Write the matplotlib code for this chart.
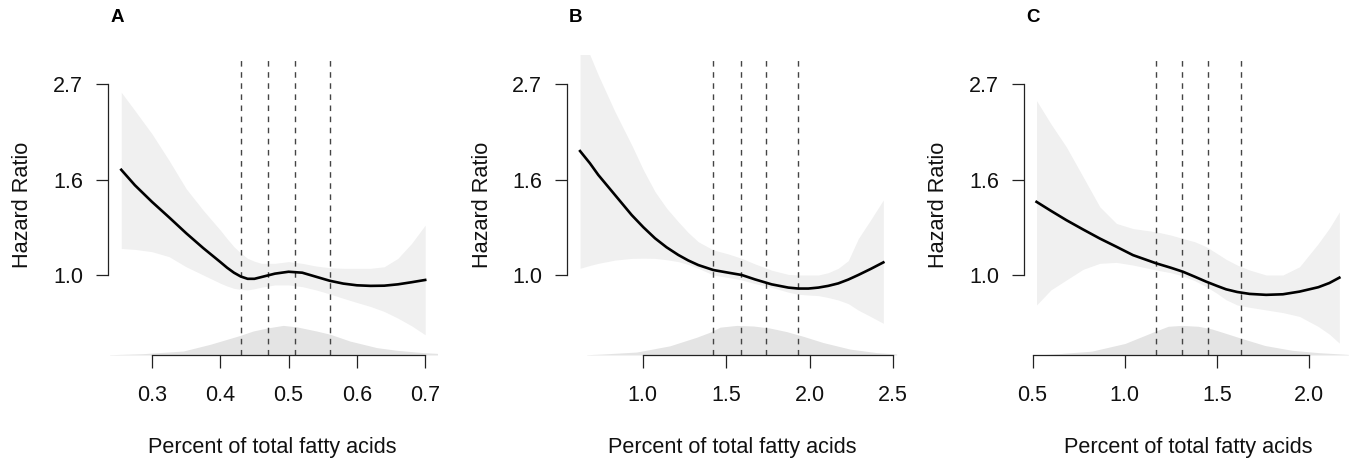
"""Restricted cubic spline hazard ratio plots, three fatty acids (A, B, C)."""

import matplotlib

matplotlib.use("Agg")
import matplotlib.pyplot as plt  # noqa: E402

plt.rcParams.update({"font.family": ["Liberation Sans", "DejaVu Sans"]})

# y values are log hazard ratio; ticks at log 0, 0.5, 1 -> HR 1.0, 1.6, 2.7
Y_TICKS = [0.0, 0.5, 1.0]
Y_TICK_LABELS = ["1.0", "1.6", "2.7"]
X_LABEL = "Percent of total fatty acids"
Y_LABEL = "Hazard Ratio"

# ---- panel A
A_X = [0.255, 0.275, 0.30, 0.325, 0.35, 0.375, 0.40, 0.41, 0.42, 0.43, 0.44, 0.45, 0.46, 0.48,
       0.50, 0.52, 0.54, 0.56, 0.58, 0.60, 0.62, 0.64, 0.66, 0.68, 0.70]
A_FIT = [0.551, 0.470, 0.383, 0.302, 0.219, 0.141, 0.068, 0.038, 0.012, -0.008, -0.020,
         -0.020, -0.011, 0.007, 0.017, 0.012, -0.009, -0.030, -0.045, -0.054, -0.057,
         -0.056, -0.049, -0.038, -0.026]
A_UPPER = [0.957, 0.861, 0.739, 0.600, 0.452, 0.339, 0.235, 0.190, 0.148, 0.115, 0.087,
           0.072, 0.061, 0.061, 0.070, 0.061, 0.047, 0.038, 0.035, 0.035, 0.035, 0.043,
           0.087, 0.165, 0.261]
A_LOWER = [0.139, 0.134, 0.122, 0.096, 0.043, 0.0, -0.043, -0.058, -0.070, -0.076, -0.078,
           -0.072, -0.064, -0.052, -0.052, -0.061, -0.078, -0.099, -0.122, -0.144, -0.165,
           -0.191, -0.226, -0.266, -0.313]
A_DENS_X = [0.238, 0.287, 0.346, 0.385, 0.429, 0.448, 0.468, 0.492, 0.512, 0.541,
            0.561, 0.590, 0.629, 0.658, 0.697, 0.726]
A_DENS = [0.01, 0.045, 0.135, 0.36, 0.66, 0.81, 0.91, 1.0, 0.95, 0.81,
          0.70, 0.47, 0.25, 0.16, 0.08, 0.045]
A_QUANT = [0.43, 0.47, 0.51, 0.56]
A_XTICKS = [0.3, 0.4, 0.5, 0.6, 0.7]

# ---- panel B
B_X = [0.625, 0.684, 0.734, 0.834, 0.934, 1.004, 1.074, 1.143, 1.213, 1.273, 1.333, 1.423,
       1.513, 1.593, 1.672, 1.772, 1.872, 1.932, 1.992, 2.052, 2.111, 2.171, 2.231, 2.291,
       2.366, 2.441]
B_FIT = [0.649, 0.585, 0.524, 0.419, 0.314, 0.250, 0.192, 0.145, 0.105, 0.076, 0.052,
         0.026, 0.012, 0.0, -0.023, -0.049, -0.066, -0.071, -0.071, -0.066, -0.057,
         -0.044, -0.024, 0.0, 0.032, 0.066]
B_UPPER = [1.25, 1.152, 1.047, 0.855, 0.681, 0.550, 0.436, 0.350, 0.279, 0.222, 0.174,
           0.131, 0.110, 0.087, 0.058, 0.025, 0.003, 0.0, 0.0, 0.0, 0.012, 0.035, 0.075,
           0.190, 0.290, 0.393]
B_LOWER = [0.035, 0.050, 0.061, 0.078, 0.087, 0.088, 0.087, 0.080, 0.070, 0.055, 0.035,
           0.0, -0.013, -0.026, -0.045, -0.065, -0.090, -0.101, -0.105, -0.108, -0.118,
           -0.131, -0.150, -0.184, -0.218, -0.253]
B_DENS_X = [0.665, 0.764, 0.964, 1.163, 1.323, 1.403, 1.463, 1.563, 1.662, 1.762,
            1.862, 1.962, 2.081, 2.241, 2.401, 2.521]
B_DENS = [0.01, 0.035, 0.10, 0.31, 0.60, 0.77, 0.94, 1.0, 0.98, 0.91,
          0.79, 0.63, 0.42, 0.20, 0.08, 0.035]
B_QUANT = [1.42, 1.59, 1.74, 1.93]
B_XTICKS = [1.0, 1.5, 2.0, 2.5]

# ---- panel C
C_X = [0.522, 0.60, 0.684, 0.775, 0.865, 0.955, 1.045, 1.171, 1.25, 1.316, 1.38,
       1.442, 1.50, 1.55, 1.61, 1.677, 1.767, 1.858, 1.948, 2.05, 2.11, 2.164]
C_FIT = [0.383, 0.336, 0.287, 0.238, 0.191, 0.148, 0.104, 0.061, 0.038, 0.017, -0.009,
         -0.035, -0.057, -0.075, -0.089, -0.099, -0.104, -0.101, -0.087, -0.064, -0.042,
         -0.014]
C_UPPER = [0.913, 0.791, 0.670, 0.513, 0.357, 0.270, 0.243, 0.226, 0.209, 0.191, 0.174,
           0.148, 0.113, 0.082, 0.052, 0.026, 0.0, 0.0, 0.043, 0.165, 0.245, 0.330]
C_LOWER = [-0.157, -0.078, -0.026, 0.030, 0.061, 0.066, 0.052, 0.026, 0.012, -0.005, -0.030,
           -0.061, -0.096, -0.130, -0.157, -0.169, -0.183, -0.197, -0.217, -0.270, -0.310,
           -0.357]
C_DENS_X = [0.55, 0.64, 0.821, 1.002, 1.164, 1.236, 1.309, 1.399, 1.472, 1.544,
            1.634, 1.761, 1.906, 2.05, 2.213]
C_DENS = [0.01, 0.045, 0.13, 0.39, 0.80, 0.97, 1.0, 0.97, 0.88, 0.74,
          0.56, 0.32, 0.16, 0.08, 0.02]
C_QUANT = [1.17, 1.31, 1.45, 1.63]
C_XTICKS = [0.5, 1.0, 1.5, 2.0]

W, H = 1352, 466
YLIM = (-0.419, 1.152)
DENS_PEAK = 0.155
BAND = "#f0f0f0"
DENS_COL = "#e4e4e4"


def panel(left_px, right_px, xlim, letter, x, fit, upper, lower, dx, dens, quant, xticks):
    fig = plt.gcf()
    ax = fig.add_axes([left_px / W, 111 / H, (right_px - left_px) / W, 300 / H])
    ax.fill_between(x, lower, upper, color=BAND, lw=0)
    ax.fill_between(dx, YLIM[0], [YLIM[0] + d * DENS_PEAK for d in dens], color=DENS_COL, lw=0)
    for q in quant:
        ax.axvline(q, color="#444444", lw=1.0, ls=(0, (4, 4)))
    ax.plot(x, fit, color="black", lw=1.9, solid_joinstyle="round")
    ax.set_xlim(*xlim)
    ax.set_ylim(*YLIM)
    for s in ("top", "right"):
        ax.spines[s].set_visible(False)
    ax.spines["left"].set_bounds(Y_TICKS[0], Y_TICKS[-1])
    ax.spines["bottom"].set_bounds(xticks[0], xticks[-1])
    for s in ("left", "bottom"):
        ax.spines[s].set_linewidth(0.9)
        ax.spines[s].set_color("#222222")
    ax.set_yticks(Y_TICKS, Y_TICK_LABELS)
    ax.set_xticks(xticks, [f"{t:.1f}" for t in xticks])
    ax.tick_params(axis="both", length=9, width=0.9, color="#222222", labelsize=15.5,
                   labelcolor="#111111")
    ax.tick_params(axis="x", pad=12.5)
    ax.tick_params(axis="y", pad=9)
    ax.text(0.5, -0.31, X_LABEL, transform=ax.transAxes, ha="center", va="center",
            fontsize=15.6, color="#111111")
    fig.text((left_px - 85) / W, 1 - 205 / H, Y_LABEL, rotation=90, ha="center",
             va="center", fontsize=15.6, color="#111111")
    fig.text((left_px + 9) / W, 1 - 17 / H, letter, ha="center", va="center",
             fontsize=13.5, fontweight="bold")
    return ax


fig = plt.figure(figsize=(W / 100, H / 100), dpi=100)
panel(108, 437, (0.2356, 0.7173), "A", A_X, A_FIT, A_UPPER, A_LOWER,
      A_DENS_X, A_DENS, A_QUANT, A_XTICKS)
panel(567, 897, (0.5467, 2.5228), "B", B_X, B_FIT, B_UPPER, B_LOWER,
      B_DENS_X, B_DENS, B_QUANT, B_XTICKS)
panel(1024, 1352, (0.4539, 2.2326), "C", C_X, C_FIT, C_UPPER, C_LOWER,
      C_DENS_X, C_DENS, C_QUANT, C_XTICKS)
fig.savefig("out.png", dpi=100)
